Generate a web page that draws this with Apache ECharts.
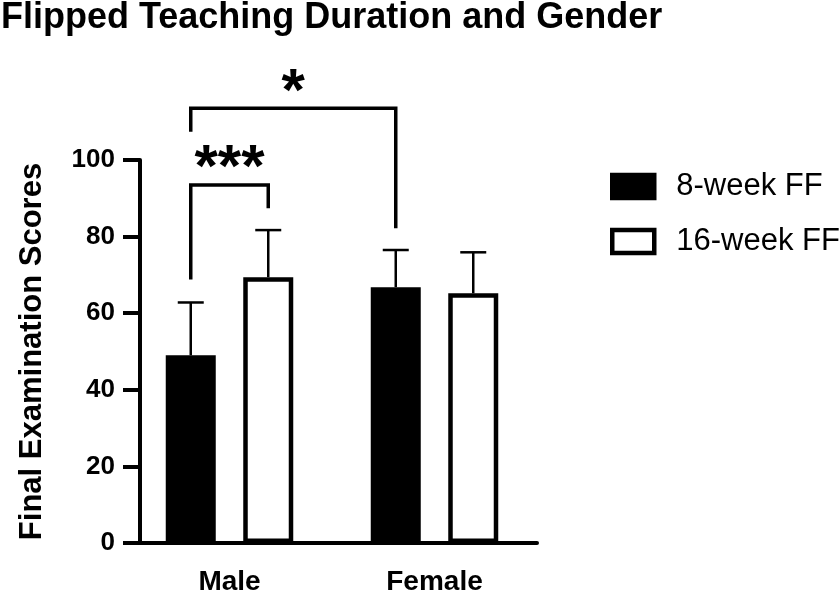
<!DOCTYPE html>
<html>
<head>
<meta charset="utf-8">
<script src="https://cdn.jsdelivr.net/npm/echarts@6/dist/echarts.min.js"></script>
<style>
  html, body { margin: 0; padding: 0; background: #fff; }
  #main { width: 839px; height: 596px; }
</style>
</head>
<body>
<div id="main"></div>
<script>
// chart data
var groups = ['Male', 'Female'];
var seriesNames = ['8-week FF', '16-week FF'];
var mean8 = [49.0, 66.8];
var sd8 = [13.8, 9.7];
var mean16 = [69.4, 65.2];
var sd16 = [12.3, 10.7];
var yTicks = [0, 20, 40, 60, 80, 100];
// significance brackets: [group A, series A, leg end A, group B, series B, leg end B, bracket level, label]
var sigBrackets = [
  [0, 0, 68.8, 0, 1, 87.4, 93.5, '***'],
  [0, 0, 107.4, 1, 0, 82.2, 113.5, '*']
];

var FONT = "'Liberation Sans', Arial, sans-serif";
var BAR_W = 50;
var BAR_GAP = 27.5;
var HALF_STEP = (BAR_W + BAR_GAP) / 2;

function barX(api, groupIdx, seriesIdx, v) {
  var p = api.coord([groupIdx, v]);
  return p[0] + (seriesIdx === 0 ? -HALF_STEP : HALF_STEP);
}

var errData = [];
for (var i = 0; i < groups.length; i++) {
  errData.push([i, mean8[i], sd8[i], 0]);
  errData.push([i, mean16[i], sd16[i], 1]);
}

var chart = echarts.init(document.getElementById('main'), null, { renderer: 'canvas' });

var option = {
  animation: false,
  backgroundColor: '#fff',
  title: {
    text: 'Flipped Teaching Duration and Gender',
    left: 0,
    top: 0,
    padding: [0, 0, 0, 1],
    textStyle: { fontFamily: FONT, fontWeight: 'bold', fontSize: 36, color: '#000' }
  },
  legend: {
    data: seriesNames,
    orient: 'vertical',
    left: 610,
    top: 171,
    padding: 0,
    itemWidth: 42,
    itemHeight: 23,
    itemGap: 24,
    icon: 'rect',
    itemStyle: { borderColor: '#000', borderWidth: 4.5 },
    textStyle: { fontFamily: FONT, fontSize: 31, color: '#000', padding: [0, 0, 0, 17], lineHeight: 27 }
  },
  grid: {
    left: 127,
    right: 839 - 537,
    top: 160,
    bottom: 596 - 544,
    containLabel: false
  },
  xAxis: {
    type: 'category',
    data: groups,
    axisLine: { lineStyle: { color: '#000', width: 4 } },
    axisTick: { alignWithLabel: true, length: 16, lineStyle: { color: '#000', width: 4 } },
    axisLabel: { margin: 25, fontFamily: FONT, fontWeight: 'bold', fontSize: 28, color: '#000' }
  },
  yAxis: {
    type: 'value',
    min: 0,
    max: 100,
    interval: 20,
    offset: -13,
    name: 'Final Examination Scores',
    nameLocation: 'middle',
    nameRotate: 90,
    nameGap: 92,
    nameTextStyle: { fontFamily: FONT, fontWeight: 'bold', fontSize: 31, color: '#000' },
    axisLine: { show: true, lineStyle: { color: '#000', width: 4 } },
    axisTick: { show: true, length: 17, lineStyle: { color: '#000', width: 4 } },
    splitLine: { show: false },
    axisLabel: {
      margin: 25, fontFamily: FONT, fontWeight: 'bold', fontSize: 26, color: '#000',
      formatter: function (v) { return yTicks.indexOf(v) >= 0 ? String(v) : ''; }
    }
  },
  series: [
    {
      name: seriesNames[0],
      type: 'bar',
      data: mean8,
      barWidth: BAR_W,
      barGap: (BAR_GAP / BAR_W * 100) + '%',
      itemStyle: { color: '#000', borderColor: '#000', borderWidth: 4.5 }
    },
    {
      name: seriesNames[1],
      type: 'bar',
      data: mean16,
      barWidth: BAR_W,
      barGap: (BAR_GAP / BAR_W * 100) + '%',
      itemStyle: { color: '#fff', borderColor: '#000', borderWidth: 4.5 }
    },
    {
      // error bars (upper only)
      type: 'custom',
      clip: false,
      silent: true,
      data: errData,
      renderItem: function (params, api) {
        var g = api.value(0), m = api.value(1), sd = api.value(2), s = api.value(3);
        var x = barX(api, g, s, m);
        var y0 = api.coord([g, m])[1];
        var y1 = api.coord([g, m + sd])[1];
        var style = { stroke: '#000', lineWidth: 2.5 };
        return {
          type: 'group',
          children: [
            { type: 'line', shape: { x1: x, y1: y0, x2: x, y2: y1 }, style: style },
            { type: 'line', shape: { x1: x - 13, y1: y1, x2: x + 13, y2: y1 }, style: style }
          ]
        };
      }
    },
    {
      // significance brackets
      type: 'custom',
      clip: false,
      silent: true,
      data: sigBrackets.map(function (b, i) { return [b[0], b[1], b[2], b[3], b[4], b[5], b[6], i]; }),
      renderItem: function (params, api) {
        var b = sigBrackets[api.value(7)];
        var xa = barX(api, b[0], b[1], 0);
        var xb = barX(api, b[3], b[4], 0);
        var ya = api.coord([b[0], b[2]])[1];
        var yb = api.coord([b[3], b[5]])[1];
        var yt = api.coord([b[0], b[6]])[1];
        return {
          type: 'group',
          children: [
            {
              type: 'polyline',
              shape: { points: [[xa, ya], [xa, yt], [xb, yt], [xb, yb]] },
              style: { stroke: '#000', lineWidth: 3.5, fill: null }
            },
            {
              type: 'text',
              x: (xa + xb) / 2,
              y: yt - 15,
              style: {
                text: b[7], fill: '#000', fontFamily: FONT, fontWeight: 'bold', fontSize: 60,
                align: 'center', verticalAlign: 'middle'
              }
            }
          ]
        };
      }
    }
  ]
};

chart.setOption(option);
</script>
</body>
</html>
